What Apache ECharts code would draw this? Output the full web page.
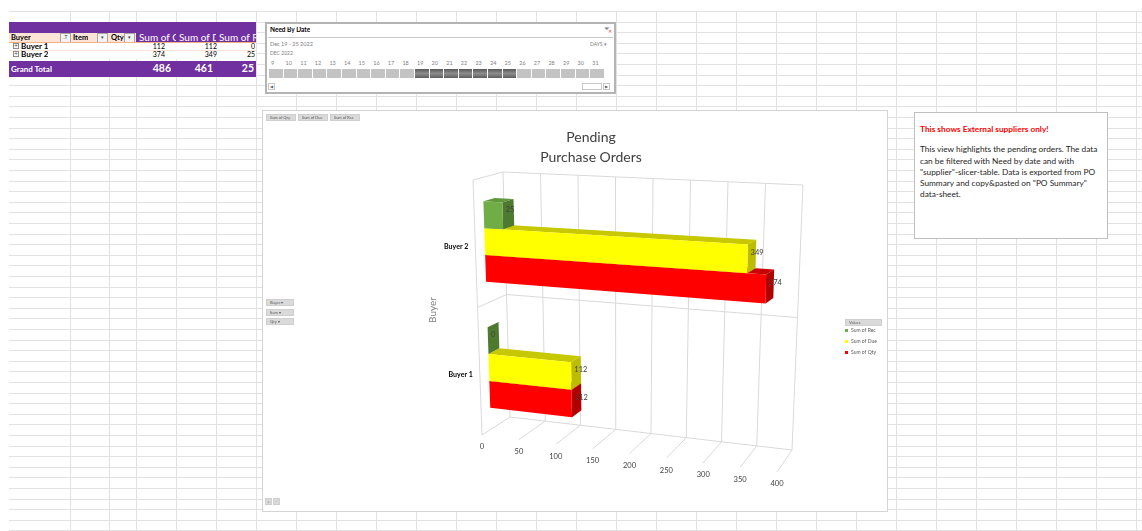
<!DOCTYPE html>
<html>
<head>
<meta charset="utf-8">
<script src="https://cdn.jsdelivr.net/npm/echarts@6/dist/echarts.min.js"></script>
<style>
body { margin: 0; width: 1142px; height: 531px; overflow: hidden; position: relative; background: #fff; font-family: Lato, "Open Sans", sans-serif; }
.abs { position: absolute; box-sizing: border-box; }
.hl { position: absolute; height: 1px; background: #e2e2e2; }
.vl { position: absolute; width: 1px; background: #e2e2e2; }
.cell { position: absolute; white-space: nowrap; overflow: hidden; line-height: 1; }
.dd { position: absolute; width: 9px; height: 8px; border: 1px solid #a6a6a6; background: #f2f2f2; font-size: 5px; color: #404040; text-align: center; line-height: 6px; }
.tile { position: absolute; top: 69px; width: 13.6px; height: 9px; background: #c3c3c3; }
.tile.on { background: linear-gradient(#5a5a5a, #8c8c8c 50%, #5e5e5e); }
.day { position: absolute; top: 60px; font-size: 5.5px; color: #7f7f7f; }
.btn { position: absolute; height: 7px; background: #dadada; border: 1px solid #cfcfcf; font-size: 4px; color: #595959; line-height: 5px; padding-left: 3px; box-sizing: border-box; }
</style>
</head>
<body>
<div id="sheet"></div>

<!-- pivot table -->
<div class="abs" style="left:9px;top:22px;width:247px;height:11px;background:#7030a0"></div>
<div class="abs" style="left:9px;top:33px;width:127px;height:9px;background:#fce4d6"></div>
<div class="abs" style="left:136px;top:33px;width:120px;height:9px;background:#7030a0"></div>
<div class="cell" style="left:11px;top:34px;font-size:7.5px;font-weight:bold;">Buyer</div>
<div class="dd" style="left:60px;top:33px;">.T</div>
<div class="cell" style="left:73px;top:34px;font-size:7.5px;font-weight:bold;">Item</div>
<div class="dd" style="left:97px;top:33px;">&#9662;</div>
<div class="cell" style="left:111px;top:34px;font-size:7.5px;font-weight:bold;">Qty</div>
<div class="dd" style="left:124px;top:33px;">&#9662;</div>
<div class="cell" style="left:139px;top:32px;width:37px;font-size:10px;color:#fff;">Sum of Qty</div>
<div class="cell" style="left:179px;top:32px;width:37px;font-size:10px;color:#fff;">Sum of Due</div>
<div class="cell" style="left:219px;top:32px;width:37px;font-size:10px;color:#fff;">Sum of Rec</div>
<div class="abs" style="left:9px;top:42px;width:247px;height:1px;background:#f4b084"></div>
<div class="abs" style="left:9px;top:43px;width:247px;height:16px;background:#fff"></div>
<div class="abs" style="left:9px;top:50px;width:247px;height:1px;background:#fce4d6"></div>
<div class="abs" style="left:13px;top:43px;width:6px;height:6px;border:1px solid #8c8c8c;font-size:6px;line-height:4px;text-align:center;color:#404040">+</div>
<div class="cell" style="left:21px;top:42px;font-size:8px;font-weight:bold;">Buyer 1</div>
<div class="abs" style="left:13px;top:51px;width:6px;height:6px;border:1px solid #8c8c8c;font-size:6px;line-height:4px;text-align:center;color:#404040">+</div>
<div class="cell" style="left:21px;top:50px;font-size:8px;font-weight:bold;">Buyer 2</div>
<div class="cell" style="left:136px;top:43px;width:29px;font-size:7px;text-align:right;">112</div>
<div class="cell" style="left:176px;top:43px;width:41px;font-size:7px;text-align:right;">112</div>
<div class="cell" style="left:216px;top:43px;width:39px;font-size:7px;text-align:right;">0</div>
<div class="cell" style="left:136px;top:51px;width:29px;font-size:7px;text-align:right;">374</div>
<div class="cell" style="left:176px;top:51px;width:41px;font-size:7px;text-align:right;">349</div>
<div class="cell" style="left:216px;top:51px;width:39px;font-size:7px;text-align:right;">25</div>
<div class="abs" style="left:9px;top:61px;width:247px;height:16px;background:#7030a0"></div>
<div class="cell" style="left:11px;top:65px;font-size:8px;font-weight:bold;color:#fff;">Grand Total</div>
<div class="cell" style="left:136px;top:63px;width:35px;font-size:10.5px;font-weight:bold;color:#fff;text-align:right;">486</div>
<div class="cell" style="left:176px;top:63px;width:37px;font-size:10.5px;font-weight:bold;color:#fff;text-align:right;">461</div>
<div class="cell" style="left:216px;top:63px;width:38px;font-size:10.5px;font-weight:bold;color:#fff;text-align:right;">25</div>

<!-- slicer -->
<div class="abs" style="left:265px;top:22px;width:351px;height:72px;background:#fff;border:2px solid #b4b4b4;"></div>
<div class="cell" style="left:270px;top:27px;font-size:6.5px;font-weight:bold;">Need By Date</div>
<div class="cell" style="left:604px;top:25px;font-size:7px;color:#808080;">&#9207;</div>
<div class="cell" style="left:608px;top:29px;font-size:5px;color:#e04040;">&#10005;</div>
<div class="abs" style="left:268px;top:37px;width:345px;height:1px;background:#c8c8c8"></div>
<div class="cell" style="left:270px;top:42px;font-size:5.5px;color:#808080;">Dec 19 - 25 2022</div>
<div class="cell" style="left:590px;top:42px;font-size:5px;color:#808080;">DAYS &#9662;</div>
<div class="cell" style="left:270px;top:51px;font-size:5px;color:#808080;">DEC 2022</div>
<div id="days"></div>
<div class="abs" style="left:268px;top:83px;width:7px;height:7px;border:1px solid #c8c8c8;font-size:4px;color:#606060;text-align:center;line-height:5px;">&#9664;</div>
<div class="abs" style="left:582px;top:83px;width:20px;height:7px;border:1px solid #c8c8c8;background:#fff"></div>
<div class="abs" style="left:603px;top:83px;width:7px;height:7px;border:1px solid #c8c8c8;font-size:4px;color:#606060;text-align:center;line-height:5px;">&#9654;</div>

<!-- chart -->
<div class="abs" style="left:262px;top:110px;width:626px;height:402px;border:1px solid #d4d4d4;background:#fff">
  <div id="chart" style="width:624px;height:400px"></div>
</div>
<div class="btn" style="left:266px;top:114px;width:30px;">Sum of Qty</div>
<div class="btn" style="left:298px;top:114px;width:30px;">Sum of Due</div>
<div class="btn" style="left:330px;top:114px;width:30px;">Sum of Rec</div>
<div class="btn" style="left:266px;top:299px;width:28px;">Buyer &#9662;</div>
<div class="btn" style="left:266px;top:309px;width:28px;">Item &#9662;</div>
<div class="btn" style="left:266px;top:318px;width:28px;">Qty &#9662;</div>
<div class="btn" style="left:845px;top:319px;width:37px;height:7px;">Values</div>
<div class="btn" style="left:265px;top:498px;width:7px;padding:0;text-align:center;">+</div>
<div class="btn" style="left:273px;top:498px;width:7px;padding:0;text-align:center;">-</div>

<!-- note -->
<div class="abs" style="left:914px;top:112px;width:194px;height:127px;border:1px solid #bfbfbf;background:#fff;padding:11px 5px 0 5px;font-size:8.3px;line-height:11.3px;color:#262626;">
  <div style="color:#ff0000;font-weight:bold;">This shows External suppliers only!</div>
  <div style="height:9px"></div>
  <div>This view highlights the pending orders. The data can be filtered with Need by date and with "supplier"-slicer-table. Data is exported from PO Summary and copy&amp;pasted on "PO Summary" data-sheet.</div>
</div>

<script>
// sheet grid
const colX = [70, 109, 136];
for (let x = 176; x < 1142; x += 40) colX.push(x);
const sheet = document.getElementById('sheet');
colX.forEach(x => {
  const d = document.createElement('div');
  d.className = 'vl';
  d.style.cssText = `left:${x}px;top:11px;height:520px`;
  sheet.appendChild(d);
});
for (let y = 11; y < 531; y += 10.6) {
  const d = document.createElement('div');
  d.className = 'hl';
  d.style.cssText = `left:9px;top:${Math.round(y)}px;width:1133px`;
  sheet.appendChild(d);
}

// slicer days
const sliceDays = [9, 10, 11, 12, 13, 14, 15, 16, 17, 18, 19, 20, 21, 22, 23, 24, 25, 26, 27, 28, 29, 30, 31];
const selectedDays = [19, 20, 21, 22, 23, 24, 25];
const daysEl = document.getElementById('days');
sliceDays.forEach((day, i) => {
  const x = 269 + i * 14.6;
  const t = document.createElement('div');
  t.className = 'tile' + (selectedDays.includes(day) ? ' on' : '');
  t.style.left = x + 'px';
  daysEl.appendChild(t);
  const n = document.createElement('div');
  n.className = 'day';
  n.style.left = (x + 2) + 'px';
  n.textContent = day;
  daysEl.appendChild(n);
});

// chart data
const categories = ['Buyer 1', 'Buyer 2'];
const recValues = [0, 25];
const dueValues = [112, 349];
const qtyValues = [112, 374];
const valueTicks = [0, 50, 100, 150, 200, 250, 300, 350, 400];

// projection of the 3d box (front plane d=0, back plane d=1), chart-local px
const FRONT = { tl: [210, 69], tr: [517, 84], bl: [219, 324], br: [514, 361] };
const BACK = { tl: [240, 61], tr: [540, 74], bl: [247, 306], br: [529, 339] };
const D0 = 0.32, D1 = 0.7;
const SLOT_START = 0.19, SLOT_H = 0.213;

const lerp = (a, b, t) => [a[0] + (b[0] - a[0]) * t, a[1] + (b[1] - a[1]) * t];
const plane = (q, u, c) => lerp(lerp(q.tl, q.tr, u), lerp(q.bl, q.br, u), c);
const P = (u, c, d) => lerp(plane(FRONT, u, c), plane(BACK, u, c), d);

const wallLine = (a, b) => ({ type: 'line', shape: { x1: a[0], y1: a[1], x2: b[0], y2: b[1] }, style: { stroke: '#d9d9d9', lineWidth: 1 } });

const renderWalls = (params, api) => {
  const cs = params.coordSys;
  const t = api.value(0);
  const u = (api.coord([t, 0])[0] - cs.x) / cs.width;
  const kids = [
    wallLine(P(u, 1, 0), P(u, 1, 1)),
    wallLine(P(u, 1, 1), P(u, 0, 1)),
  ];
  const lp = P(u, 1, 0);
  kids.push({ type: 'text', style: { text: String(t), x: lp[0], y: lp[1] + 12, align: 'center', verticalAlign: 'middle', fill: '#404040', font: '7.5px Lato' } });
  if (params.dataIndex === 0) {
    kids.push(wallLine(P(0, 0, 0), P(0, 1, 0)));
    kids.push(wallLine(P(0, 0, 0), P(0, 0, 1)));
    kids.push(wallLine(P(0, 0, 1), P(1, 0, 1)));
    kids.push(wallLine(P(0, 1, 1), P(1, 1, 1)));
    const band = api.size([0, 1])[1];
    categories.forEach((name, k) => {
      const cc = (api.coord([0, k])[1] - cs.y) / cs.height;
      const cb = (api.coord([0, k])[1] - band / 2 - cs.y) / cs.height;
      if (cb > 0.01) {
        kids.push(wallLine(P(0, cb, 0), P(0, cb, 1)));
        kids.push(wallLine(P(0, cb, 1), P(1, cb, 1)));
      }
      const p = P(0, cc, 0);
      kids.push({ type: 'text', style: { text: name, x: p[0] - 7, y: p[1] + 3, align: 'right', verticalAlign: 'middle', fill: '#000', font: 'bold 7px Lato' } });
    });
  }
  return { type: 'group', children: kids };
};

const makeBar = (slot, faces) => (params, api) => {
  const cs = params.coordSys;
  const k = api.value(0);
  const v = api.value(1);
  const p0 = api.coord([0, k]);
  const p1 = api.coord([v, k]);
  const band = api.size([0, 1])[1];
  const u0 = (p0[0] - cs.x) / cs.width;
  const u1 = (p1[0] - cs.x) / cs.width;
  const top = p1[1] - band / 2 + band * (SLOT_START + SLOT_H * slot);
  const cT = (top - cs.y) / cs.height;
  const cB = (top + band * SLOT_H - cs.y) / cs.height;
  const A = P(u0, cT, D0), B = P(u1, cT, D0), C = P(u1, cB, D0), E = P(u0, cB, D0);
  const A2 = P(u0, cT, D1), B2 = P(u1, cT, D1), C2 = P(u1, cB, D1);
  const m = P(u1, (cT + cB) / 2, D0);
  return {
    type: 'group',
    children: [
      { type: 'polygon', shape: { points: [A, B, B2, A2] }, style: { fill: faces.top } },
      { type: 'polygon', shape: { points: [B, B2, C2, C] }, style: { fill: faces.side } },
      { type: 'polygon', shape: { points: [A, B, C, E] }, style: { fill: faces.front } },
      { type: 'text', style: { text: String(v), x: m[0] + 3, y: m[1] - 6, verticalAlign: 'middle', fill: '#404040', font: '7.5px Lato' } },
    ],
  };
};

const chart = echarts.init(document.getElementById('chart'));
chart.setOption({
  animation: false,
  title: {
    text: 'Pending\nPurchase Orders',
    left: 328,
    top: 16,
    padding: 0,
    textAlign: 'center',
    textStyle: { fontFamily: 'Lato', fontSize: 14, fontWeight: 'normal', color: '#404040', lineHeight: 20 },
  },
  legend: {
    data: ['Sum of Rec', 'Sum of Due', 'Sum of Qty'],
    orient: 'vertical',
    left: 582,
    top: 217,
    padding: 0,
    itemWidth: 3,
    itemHeight: 3,
    itemGap: 6,
    icon: 'rect',
    textStyle: { fontSize: 5, lineHeight: 5, color: '#595959', fontFamily: 'Lato', padding: [0, 0, 0, -2] },
  },
  graphic: [
    { type: 'text', x: 170, y: 199, rotation: Math.PI / 2, style: { text: 'Buyer', fill: '#7f7f7f', font: '10px Lato', align: 'center', verticalAlign: 'middle' } },
  ],
  grid: { left: 0, right: 0, top: 0, bottom: 0 },
  xAxis: { type: 'value', min: 0, max: 400, show: false },
  yAxis: { type: 'category', data: categories, show: false },
  series: [
    { type: 'custom', name: 'walls', silent: true, data: valueTicks.map(t => [t, 0]), encode: { x: 0, y: 1 }, renderItem: renderWalls },
    { type: 'custom', name: 'Sum of Qty', itemStyle: { color: '#ff0000' }, data: qtyValues.map((v, i) => [i, v]), encode: { x: 1, y: 0 },
      renderItem: makeBar(2, { front: '#ff0000', top: '#c80000', side: '#b00000' }) },
    { type: 'custom', name: 'Sum of Due', itemStyle: { color: '#ffff00' }, data: dueValues.map((v, i) => [i, v]), encode: { x: 1, y: 0 },
      renderItem: makeBar(1, { front: '#ffff00', top: '#c8c800', side: '#bdbd00' }) },
    { type: 'custom', name: 'Sum of Rec', itemStyle: { color: '#70ad47' }, data: recValues.map((v, i) => [i, v]), encode: { x: 1, y: 0 },
      renderItem: makeBar(0, { front: '#70ad47', top: '#5f9a3a', side: '#4e7a30' }) },
  ],
});
</script>
</body>
</html>
